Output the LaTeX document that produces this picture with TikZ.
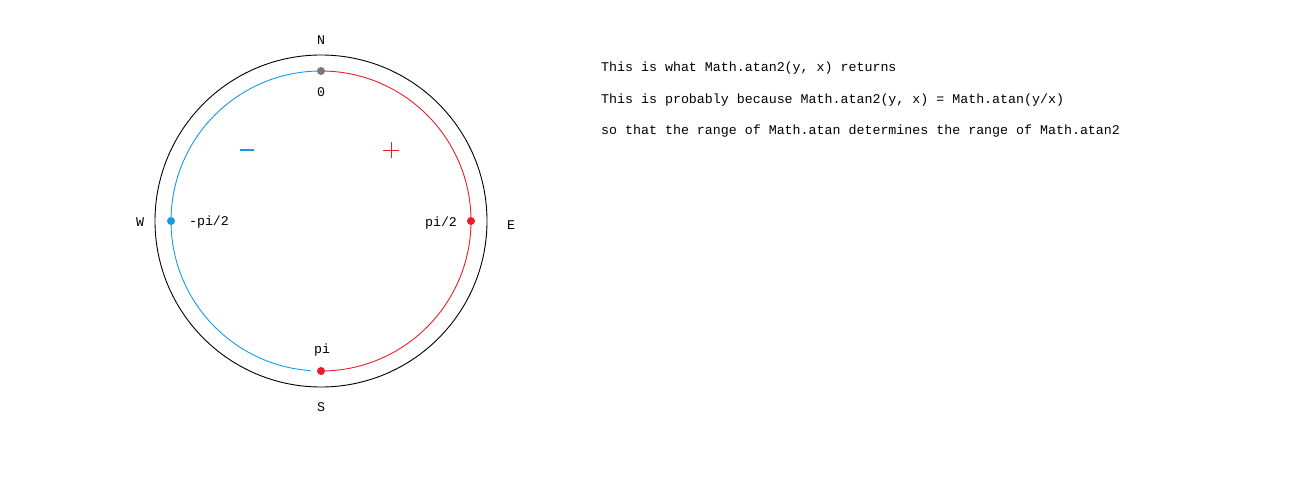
\documentclass[tikz,border=0pt]{standalone}
\usepackage{fontspec}
\setmonofont{Liberation Mono}
\definecolor{negblue}{RGB}{20,155,225}
\definecolor{posred}{RGB}{232,30,40}
\definecolor{zerogrey}{RGB}{120,120,120}
\tikzset{
  lbl/.style={font=\ttfamily\fontsize{13.3}{15}\selectfont, inner sep=0pt},
  dot/.style={circle, fill=#1, inner sep=0pt, minimum size=8pt},
}
\begin{document}
\begin{tikzpicture}[x=1pt,y=1pt]
\useasboundingbox (0,0) rectangle (1312,483);
\coordinate (c) at (321,262);

%Outer circle
\draw[black, line width=0.9pt] (c) circle[radius=166];

%Arcs
\draw[posred, line width=0.9pt] ([shift={(90:150)}]c) arc[start angle=90, end angle=-90, radius=150];
\draw[negblue, line width=0.9pt] ([shift={(90:150)}]c) arc[start angle=90, end angle=266, radius=150];

%Points
\node[dot=zerogrey] (top) at ([shift={(90:150)}]c) {};
\node[dot=posred] (east) at ([shift={(0:150)}]c) {};
\node[dot=negblue] (west) at ([shift={(180:150)}]c) {};
\node[dot=posred] (bottom) at ([shift={(270:150)}]c) {};

%Compass
\node[lbl] (n) at (321,443) {N};
\node[lbl] (s) at (321,76) {S};
\node[lbl] (w) at (140,261) {W};
\node[lbl] (e) at (511,258) {E};

%Values
\node[lbl] (zero) at (321,391) {0};
\node[lbl] (pi) at (322,133) {pi};
\node[lbl] (mhalf) at (209,261) {-pi/2};
\node[lbl] (phalf) at (441,260) {pi/2};

%Signs
\draw[negblue, line width=2.2pt] (240,333) -- (254,333);
\draw[posred, line width=1pt] (383,333) -- (399,333) (391,325) -- (391,341);

%Text
\node[lbl, anchor=west] (t1) at (601,415) {This is what Math.atan2(y, x) returns};
\node[lbl, anchor=west] (t2) at (601,383) {This is probably because Math.atan2(y, x) = Math.atan(y/x)};
\node[lbl, anchor=west] (t3) at (601,352) {so that the range of Math.atan determines the range of Math.atan2};
\end{tikzpicture}
\end{document}
